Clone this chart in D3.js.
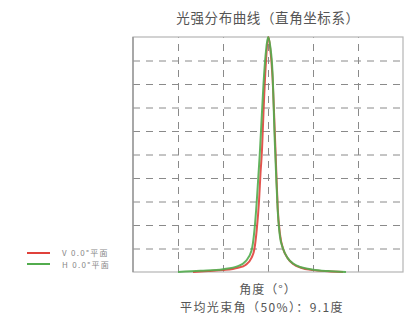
<!DOCTYPE html>
<html><head><meta charset="utf-8">
<script src="https://cdn.jsdelivr.net/npm/d3@7"></script>
<style>
html,body{margin:0;padding:0;background:#fff;}
svg{display:block;font-family:"Noto Sans CJK SC","Noto Sans",sans-serif;}
</style></head>
<body>
<svg id="chart" width="412" height="315"></svg>
<script>
const title = "光强分布曲线（直角坐标系）";
const xLabel = "角度（°）";
const subLabel = "平均光束角（50%）：9.1度";
const seriesNames = ["V 0.0°平面", "H 0.0°平面"];
const seriesColors = ["#e0413b", "#52ac4e"];
const xTicks = [-90, -60, -30, 0, 30, 60, 90];
const yTicks = [0, 0.1, 0.2, 0.3, 0.4, 0.5, 0.6, 0.7, 0.8, 0.9, 1.0];

const vAngles = [-50, -40, -30, -20, -15, -11, -9, -7.5, -6, -5, -4, -3, -1.5, 0.3, 1.5, 3, 4.5, 5.5, 6.5, 8, 10, 13, 17, 22, 30, 40, 50];
const vValues = [0, 0.004, 0.008, 0.018, 0.03, 0.06, 0.1, 0.18, 0.3, 0.42, 0.52, 0.68, 0.88, 1.0, 0.95, 0.83, 0.6, 0.43, 0.27, 0.16, 0.1, 0.06, 0.033, 0.018, 0.008, 0.003, 0];
const hAngles = [-60, -45, -30, -20, -15, -11, -9, -7.5, -6.5, -5.5, -4.5, -3, -1.5, 0, 1.5, 3, 4.5, 5.5, 6.5, 8, 10, 13, 17, 22, 30, 40, 52];
const hValues = [0, 0.005, 0.012, 0.025, 0.045, 0.09, 0.18, 0.3, 0.4, 0.5, 0.62, 0.8, 0.93, 1.0, 0.96, 0.85, 0.56, 0.4, 0.26, 0.15, 0.1, 0.06, 0.035, 0.02, 0.01, 0.004, 0];

const svg = d3.select("#chart");
const L = 133, R = 403, T = 37, B = 272;
const x = d3.scaleLinear().domain([-90, 90]).range([L, R]);
const y = d3.scaleLinear().domain([0, 1]).range([B, T]);

// grid
const gx = svg.append("g").attr("transform", `translate(0,${B})`)
  .call(d3.axisBottom(x).tickValues(xTicks).tickSize(-(B - T)).tickFormat(""));
gx.select(".domain").remove();
gx.selectAll(".tick line").attr("stroke", "#8a8a8a").attr("stroke-dasharray", "7,6").attr("stroke-width", 1);
gx.selectAll(".tick").filter(d => d === -90 || d === 90).remove();

const gy = svg.append("g").attr("transform", `translate(${L},0)`)
  .call(d3.axisLeft(y).tickValues(yTicks).tickSize(-(R - L)).tickFormat(""));
gy.select(".domain").remove();
gy.selectAll(".tick line").attr("stroke", "#8a8a8a").attr("stroke-dasharray", "7,6").attr("stroke-width", 1);
gy.selectAll(".tick").filter(d => d === 0 || d === 1).remove();

// frame
svg.append("rect").attr("x", L).attr("y", T).attr("width", R - L).attr("height", B - T)
  .attr("fill", "none").attr("stroke", "#b5b5b5").attr("stroke-width", 1.2);
svg.append("line").attr("x1", L).attr("x2", L).attr("y1", T).attr("y2", B).attr("stroke", "#8c8c8c").attr("stroke-width", 1.2);

const line = d3.line().x(d => x(d[0])).y(d => y(d[1])).curve(d3.curveMonotoneX);
const series = [
  d3.zip(vAngles, vValues),
  d3.zip(hAngles, hValues)
];
series.forEach((s, i) => {
  svg.append("path").datum(s).attr("d", line).attr("fill", "none")
    .attr("stroke", seriesColors[i]).attr("stroke-width", 2).attr("stroke-opacity", 0.9);
});

// title and labels
svg.append("text").attr("x", 268).attr("y", 23).attr("text-anchor", "middle")
  .attr("font-size", 13.5).attr("letter-spacing", 0.6).attr("fill", "#555").text(title);
svg.append("text").attr("x", 268).attr("y", 294).attr("text-anchor", "middle")
  .attr("font-size", 12).attr("letter-spacing", 1).attr("fill", "#555").text(xLabel);
svg.append("text").attr("x", 262).attr("y", 312).attr("text-anchor", "middle")
  .attr("font-size", 12).attr("letter-spacing", 1.4).attr("fill", "#555").text(subLabel);

// legend
seriesNames.forEach((n, i) => {
  const yy = 253 + i * 11;
  svg.append("line").attr("x1", 27).attr("x2", 50).attr("y1", yy).attr("y2", yy)
    .attr("stroke", seriesColors[i]).attr("stroke-width", 2);
  svg.append("text").attr("x", 62).attr("y", yy + (i === 0 ? 2.5 : 3.5)).attr("font-size", 8)
    .attr("letter-spacing", 1.3).attr("fill", "#888").text(n);
});
</script>
</body></html>
